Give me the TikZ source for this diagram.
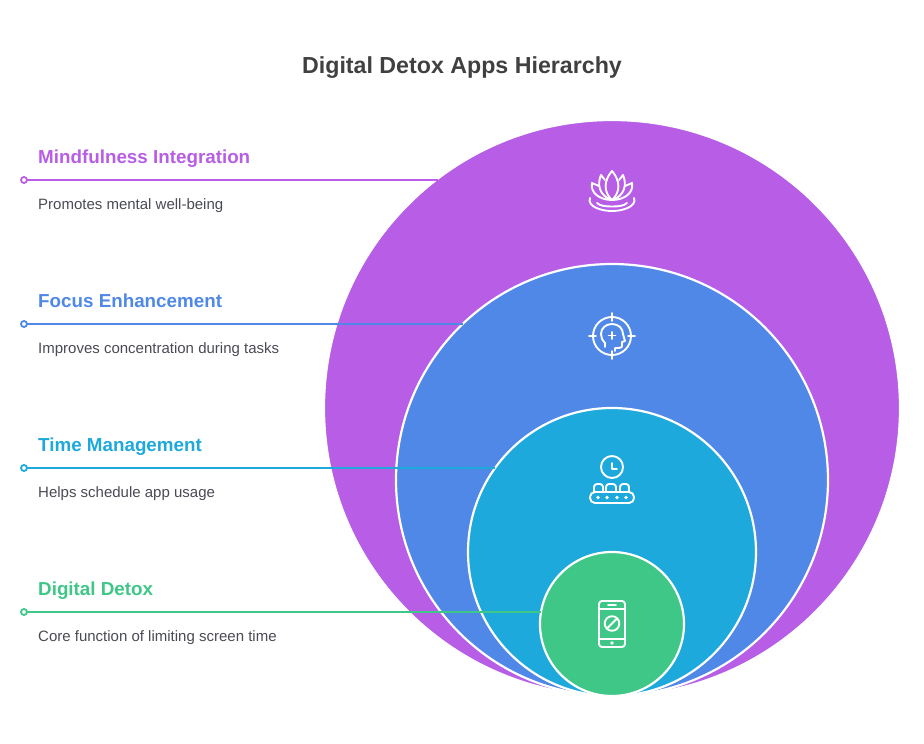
\documentclass[tikz,border=0pt]{standalone}
\usepackage{fontspec}
\setmainfont{Liberation Sans}
\definecolor{mindcol}{HTML}{B75DE6}
\definecolor{focuscol}{HTML}{4F88E6}
\definecolor{timecol}{HTML}{1EA9DC}
\definecolor{detoxcol}{HTML}{3EC787}
\definecolor{titlecol}{HTML}{404040}
\definecolor{desccol}{HTML}{4A4A55}
\tikzset{
    ring/.style={circle,draw=white,line width=2.2pt,inner sep=0pt,outer sep=0pt},
    enddot/.style={circle,fill=white,line width=1.8pt,inner sep=0pt,outer sep=0pt,minimum size=6pt},
    headtext/.style={anchor=base west,font=\fontsize{18.8}{24}\selectfont\bfseries,inner sep=0pt},
    desctext/.style={anchor=base west,font=\fontsize{15}{18}\selectfont,text=desccol,inner sep=0pt},
    icon/.style={draw=white,line width=1.9pt,line cap=round,line join=round},
    leader/.style={line width=1.8pt}
}
\begin{document}
\begin{tikzpicture}[x=1pt,y=-1pt]
    \useasboundingbox (0,0) rectangle (924,744);
    \node[anchor=base,font=\fontsize{23.2}{30}\selectfont\bfseries,text=titlecol,inner sep=0pt] (title) at (462,73) {Digital Detox Apps Hierarchy};
    % circles
    \node[ring,fill=mindcol,minimum size=576pt] (mind) at (612,408) {};
    \node[ring,fill=focuscol,minimum size=432pt] (focus) at (612,480) {};
    \node[ring,fill=timecol,minimum size=288pt] (time) at (612,552) {};
    \node[ring,fill=detoxcol,minimum size=144pt] (detox) at (612,624) {};
    % leaders
    \node[enddot,draw=mindcol] (dota) at (24,180) {};
    \node[enddot,draw=focuscol] (dotb) at (24,324) {};
    \node[enddot,draw=timecol] (dotc) at (24,468) {};
    \node[enddot,draw=detoxcol] (dotd) at (24,612) {};
    \coordinate (enda) at (438,180);
    \coordinate (endb) at (463,324);
    \coordinate (endc) at (495,468);
    \coordinate (endd) at (541,612);
    \draw[leader,draw=mindcol] (dota) -- (enda);
    \draw[leader,draw=focuscol] (dotb) -- (endb);
    \draw[leader,draw=timecol] (dotc) -- (endc);
    \draw[leader,draw=detoxcol] (dotd) -- (endd);
    % labels
    \node[headtext,text=mindcol] (heada) at (38,163) {Mindfulness Integration};
    \node[desctext] (desca) at (38,209) {Promotes mental well-being};
    \node[headtext,text=focuscol] (headb) at (38,307) {Focus Enhancement};
    \node[desctext] (descb) at (38,353) {Improves concentration during tasks};
    \node[headtext,text=timecol] (headc) at (38,451) {Time Management};
    \node[desctext] (descc) at (38,497) {Helps schedule app usage};
    \node[headtext,text=detoxcol] (headd) at (38,595) {Digital Detox};
    \node[desctext] (descd) at (38,641) {Core function of limiting screen time};
    % lotus
    \draw[icon] (612,200) .. controls (603,192) and (604,180) .. (612,171) .. controls (620,180) and (621,192) .. (612,200);
    \draw[icon] (605,180) .. controls (603,178) and (602,176) .. (601,175) .. controls (597,184) and (599,196) .. (612,200) .. controls (625,196) and (627,184) .. (623,175) .. controls (622,176) and (621,178) .. (619,180);
    \draw[icon] (599,186) .. controls (597,185) and (594,184) .. (592,183) .. controls (590,193) and (600,200) .. (612,200) .. controls (624,200) and (634,193) .. (632,183) .. controls (630,184) and (627,185) .. (625,186);
    \draw[icon] (590,198) .. controls (587,206) and (600,211) .. (612,211) .. controls (624,211) and (637,206) .. (634,198);
    \draw[icon] (597,203) .. controls (600,206) and (606,206.5) .. (612,206.5) .. controls (618,206.5) and (624,206) .. (627,203);
    % head in target
    \draw[icon] (612,336) circle (19);
    \draw[icon] (612,313) -- (612,321) (612,351) -- (612,359) (589,336) -- (596,336) (628,336) -- (635,336);
    \draw[icon] (605,347) -- (605,343) .. controls (602,340) and (601,337) .. (601,334) .. controls (601,328) and (606,324) .. (612,324) .. controls (619,324) and (623,329) .. (623,334) -- (625,341) -- (622,342) -- (622,346) .. controls (622,348) and (619,348) .. (615,348) -- (615,351);
    \draw[icon] (612,332) -- (612,339) (608.5,335.5) -- (615.5,335.5);
    % clock and conveyor
    \draw[icon] (612,467) circle (11);
    \draw[icon] (612,463) -- (612,469) -- (617,469);
    \draw[icon,rounded corners=3pt] (594,492) -- (594,484) -- (603,484) -- (603,492);
    \draw[icon,rounded corners=3pt] (606,492) -- (606,484) -- (616,484) -- (616,492);
    \draw[icon,rounded corners=3pt] (620,492) -- (620,484) -- (629,484) -- (629,492);
    \draw[icon,rounded corners=5pt] (590,492) rectangle (634,503);
    \fill[white] (598,497.5) circle (1.8) (607,497.5) circle (1.8) (617,497.5) circle (1.8) (626,497.5) circle (1.8);
    % phone
    \draw[icon,rounded corners=3pt] (599,601) rectangle (625,647);
    \draw[icon] (599,609) -- (625,609) (599,639) -- (625,639);
    \draw[icon] (608,604.7) -- (616,604.7);
    \fill[white] (612,643) circle (1.8);
    \draw[icon] (612,623.5) circle (7.3);
    \draw[icon] (607,628.5) -- (617,618.5);
\end{tikzpicture}
\end{document}
